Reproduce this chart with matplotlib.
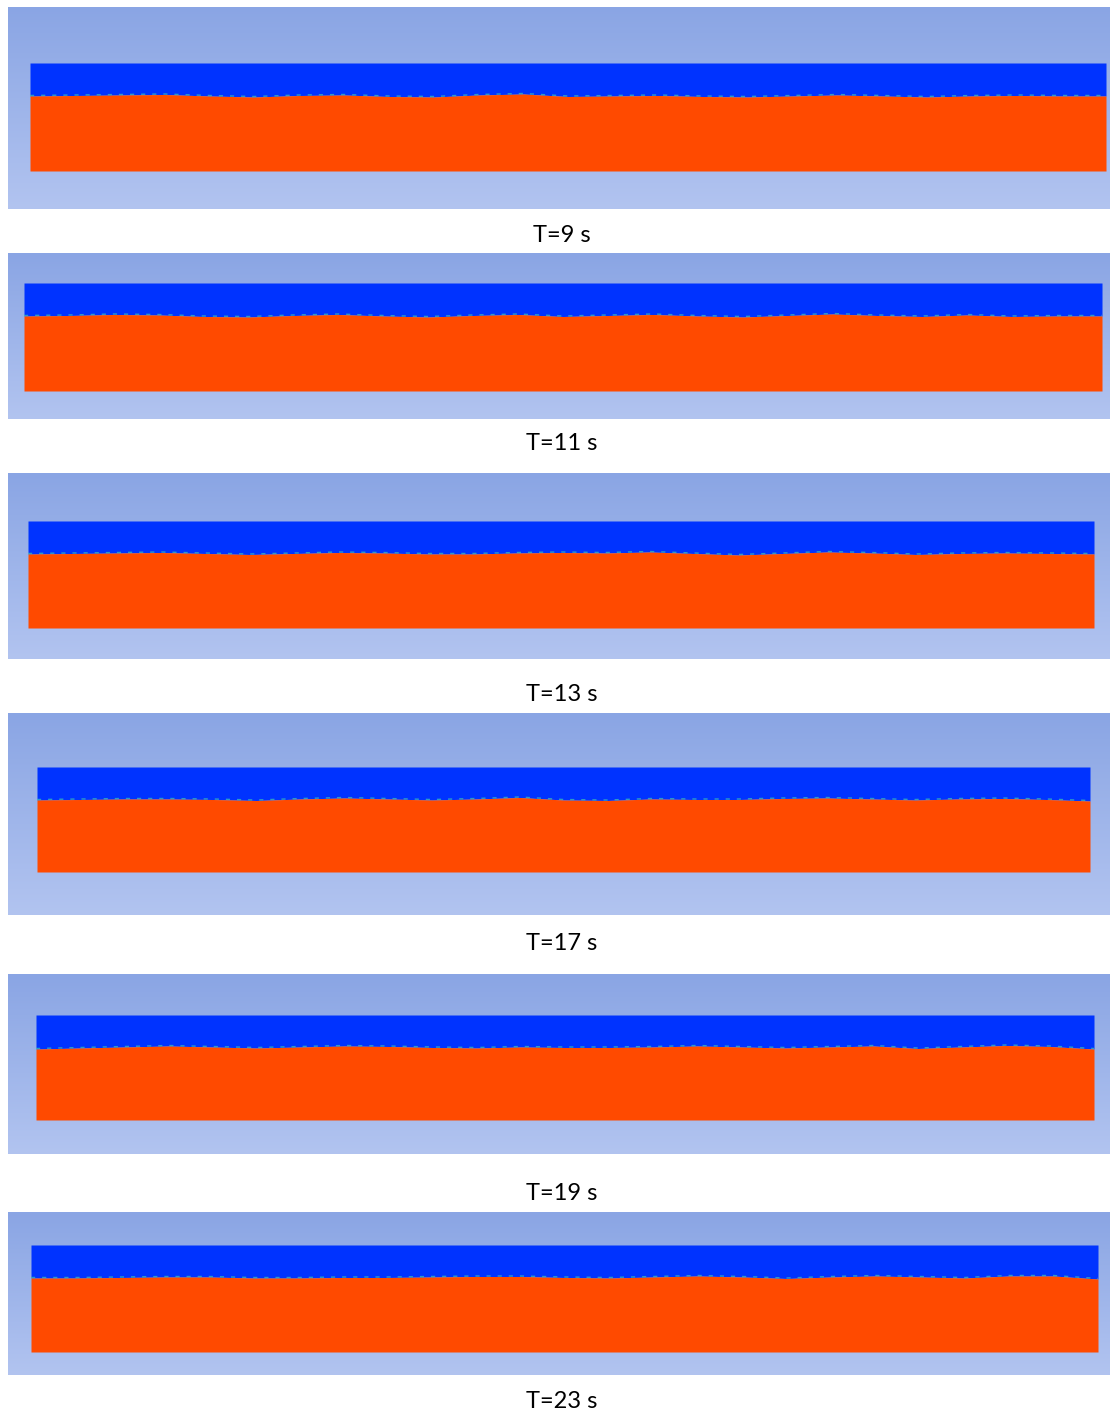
import numpy as np
import matplotlib
matplotlib.use('Agg')
import matplotlib.pyplot as plt

# Instantes de la simulación
labels = ["T=9 s", "T=11 s", "T=13 s", "T=17 s", "T=19 s", "T=23 s"]

# Estaciones a lo largo del tanque (fracción de la longitud)
stations = np.linspace(0, 1, 25)

# Profundidad de la interfaz bajo la tapa del tanque (px) en cada estación
depth_t9 = [33, 32.5, 32, 31.5, 33, 34, 32.5, 32, 33.5, 34, 32, 31, 33.5,
            33, 32.5, 33.5, 34, 33, 32, 33, 34, 33, 32.5, 33, 33]
depth_t11 = [33, 32.5, 31.5, 32, 33.5, 34, 32.5, 31.5, 33, 34, 32.5, 31.5, 33.5,
             32.5, 31.5, 33, 34, 32.5, 31, 32.5, 33.5, 32, 33.5, 33, 33]
depth_t13 = [33, 32.5, 32, 31.5, 32.5, 33.5, 32.5, 31.5, 32, 33, 33, 32, 31.5,
             32, 31, 32.5, 34, 32.5, 31, 32, 33.5, 32.5, 32, 32.5, 33]
depth_t17 = [33, 32.5, 32, 32, 32.5, 33.5, 32, 31, 32, 33, 32, 30.5, 33,
             33.5, 32, 32.5, 32.5, 31.5, 31, 32, 33, 32, 31.5, 32.5, 34]
depth_t19 = [34, 33, 32, 31, 32, 33, 32, 31, 31.5, 32.5, 33, 32, 32.5,
             32.5, 32, 31, 32, 33, 32, 31, 33.5, 32, 30.5, 31.5, 34]
depth_t23 = [33, 33, 32.5, 32, 32, 33, 33, 32.5, 32.5, 32, 31.5, 31.5, 32.5,
             33, 32, 31, 32, 33.5, 32, 31, 32, 33, 31, 31, 34]
depths = [depth_t9, depth_t11, depth_t13, depth_t17, depth_t19, depth_t23]

# Marco de cada captura (px): fondo y tanque
bg_boxes = [(8, 7, 1110, 209), (8, 253, 1110, 419), (8, 473, 1110, 659),
            (8, 713, 1110, 915), (8, 974, 1110, 1154), (8, 1212, 1110, 1375)]
tanks = [(30, 63, 1106, 171), (24, 283, 1102, 391), (28, 521, 1094, 628),
         (37, 767, 1090, 872), (36, 1015, 1094, 1120), (31, 1245, 1098, 1352)]
label_y = [236, 444, 694, 943, 1193, 1401]

W, H = 1110, 1411
AIR = '#0033ff'
WATER = '#ff4a00'
BG_TOP = np.array([138, 165, 228]) / 255
BG_BOT = np.array([178, 196, 240]) / 255

fig = plt.figure(figsize=(W / 100, H / 100), dpi=100)
fig.patch.set_facecolor('white')

for i in range(6):
    bx0, by0, bx1, by1 = bg_boxes[i]
    ax = fig.add_axes([bx0 / W, 1 - by1 / H, (bx1 - bx0) / W, (by1 - by0) / H])
    ax.set_xlim(bx0, bx1)
    ax.set_ylim(by1, by0)
    ax.axis('off')

    # fondo degradado tipo Fluent
    t = np.linspace(0, 1, 256)[:, None]
    grad = BG_TOP[None, None, :] * (1 - t[..., None]) + BG_BOT[None, None, :] * t[..., None]
    grad = np.repeat(grad, 2, axis=1)
    ax.imshow(grad, extent=(bx0, bx1, by1, by0), aspect='auto', zorder=0)

    tx0, ty0, tx1, ty1 = tanks[i]
    x = tx0 + stations * (tx1 - tx0)
    y_int = ty0 + np.array(depths[i])

    # aire arriba, agua abajo
    ax.fill_between(x, ty0, y_int, color=AIR, lw=0, zorder=1)
    ax.fill_between(x, y_int, ty1, color=WATER, lw=0, zorder=2)
    # franja de mezcla en la interfaz
    ax.plot(x, y_int - 0.5, color='#40c8b0', lw=1.0, alpha=0.7,
            ls=(0, (3, 5)), zorder=3)

    fig.text(562 / W, 1 - label_y[i] / H, labels[i], ha='center', va='center',
             fontsize=17, family='Lato', color='black')

fig.savefig('out.png', dpi=100)
